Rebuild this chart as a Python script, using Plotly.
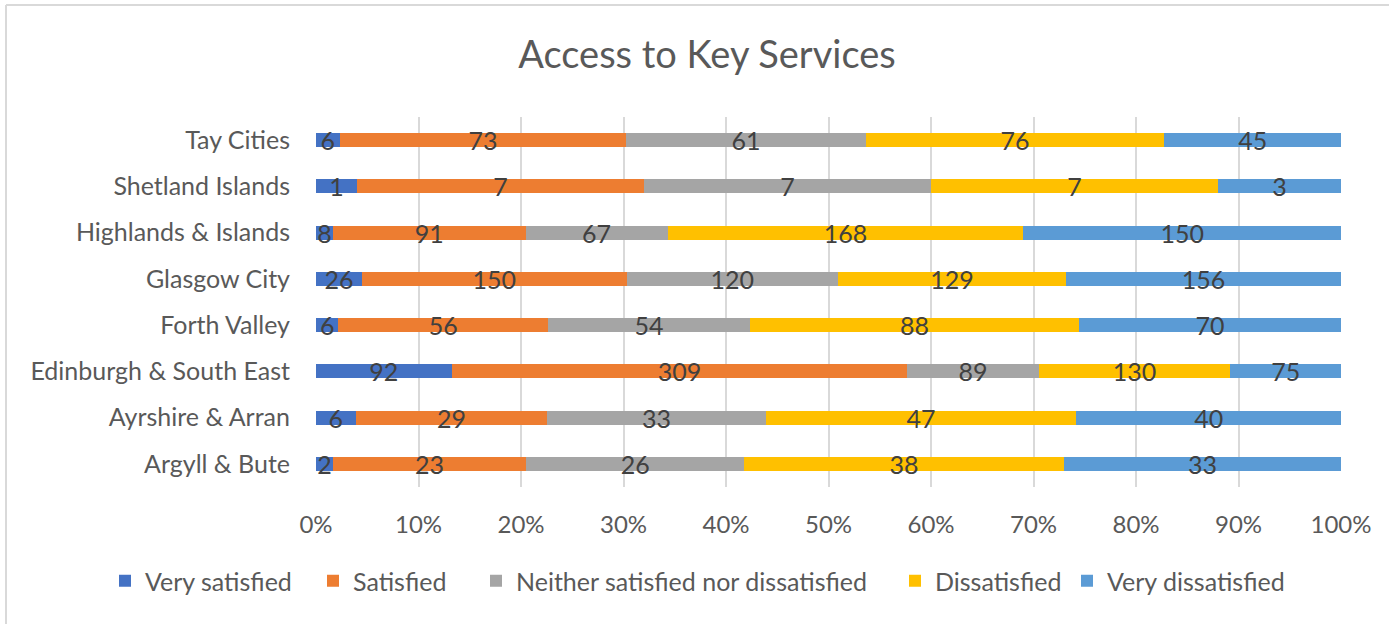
import plotly.graph_objects as go

categories = ["Argyll & Bute", "Ayrshire & Arran", "Edinburgh & South East", "Forth Valley",
              "Glasgow City", "Highlands & Islands", "Shetland Islands", "Tay Cities"]
very_satisfied = [2, 6, 92, 6, 26, 8, 1, 6]
satisfied = [23, 29, 309, 56, 150, 91, 7, 73]
neither = [26, 33, 89, 54, 120, 67, 7, 61]
dissatisfied = [38, 47, 130, 88, 129, 168, 7, 76]
very_dissatisfied = [33, 40, 75, 70, 156, 150, 3, 45]
series_names = ["Very satisfied", "Satisfied", "Neither satisfied nor dissatisfied",
                "Dissatisfied", "Very dissatisfied"]
series_values = [very_satisfied, satisfied, neither, dissatisfied, very_dissatisfied]
colors = ["#4472C4", "#ED7D31", "#A5A5A5", "#FFC000", "#5B9BD5"]
x_ticks = [0, 10, 20, 30, 40, 50, 60, 70, 80, 90, 100]

FONT = "Lato"
W, H = 1389, 624
# plot area in page pixels
PL, PR, PT, PB = 316, 1341, 117, 487
L, R, T, B = PL, W - PR, PT, H - PB
# left edge of each legend entry (page pixels)
legend_left = [105, 313, 476, 895, 1067]

pw = W - L - R
ph = H - T - B
def sx(px):
    return (px - PL) / pw
def sy(py):
    return 1 - (py - PT) / ph

fig = go.Figure()
legend_layouts = {}
for i, (name, vals, col) in enumerate(zip(series_names, series_values, colors)):
    lname = "legend" if i == 0 else f"legend{i + 1}"
    fig.add_trace(go.Bar(
        y=categories, x=vals, name=name, orientation="h",
        marker=dict(color=col, line=dict(width=0)),
        text=[str(v) for v in vals], textposition="inside",
        insidetextanchor="middle", constraintext="none", textangle=0,
        textfont=dict(family=FONT, size=25, color="#404040"),
        hoverinfo="skip", legend=lname,
    ))
    legend_layouts[lname] = dict(
        orientation="h", xref="paper", yref="paper",
        x=sx(legend_left[i]), xanchor="left", y=sy(581), yanchor="middle",
        font=dict(family=FONT, size=25, color="#595959"),
        bgcolor="rgba(0,0,0,0)", itemclick=False, itemdoubleclick=False)

border = dict(color="#D9D9D9", width=2)
fig.update_layout(
    width=W, height=H,
    barmode="stack", barnorm="percent", bargap=0.70,
    margin=dict(l=L, r=R, t=T, b=B, autoexpand=False),
    paper_bgcolor="white", plot_bgcolor="white",
    font=dict(family=FONT, color="#595959"),
    title=dict(text="Access to Key Services", x=707 / W, xanchor="center",
               xref="container", y=1 - 55 / H, yanchor="middle", yref="container",
               font=dict(family=FONT, size=38, color="#595959")),
    xaxis=dict(range=[0, 100], tickvals=x_ticks, ticktext=[f"{v}%" for v in x_ticks],
               showgrid=True, gridcolor="#D9D9D9", gridwidth=1.5, zeroline=False,
               showline=False, ticks="", ticklabelstandoff=21,
               tickfont=dict(family=FONT, size=24, color="#595959"), fixedrange=True),
    yaxis=dict(showgrid=False, zeroline=False, showline=False, ticks="",
               ticklabelstandoff=25,
               tickfont=dict(family=FONT, size=25, color="#595959"), fixedrange=True),
    showlegend=True,
    shapes=[
        dict(type="line", xref="paper", yref="paper", x0=sx(6), x1=sx(W), y0=sy(5), y1=sy(5),
             line=border, layer="below"),
        dict(type="line", xref="paper", yref="paper", x0=sx(6), x1=sx(6), y0=sy(5), y1=sy(H),
             line=border, layer="below"),
    ],
    **legend_layouts,
)

fig.write_html("out.html", config={"displayModeBar": False},
               post_script="document.body.style.margin='0';")
